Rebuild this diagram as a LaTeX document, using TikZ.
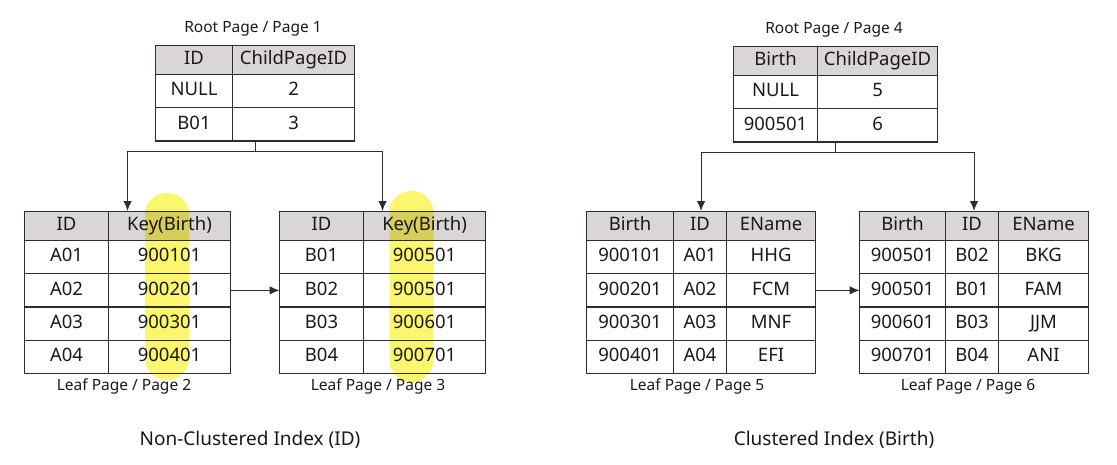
\documentclass[tikz,border=0pt]{standalone}
\usepackage{fontspec}
\setmainfont{Noto Sans}
\usetikzlibrary{matrix,arrows.meta}
\definecolor{hdr}{RGB}{218,214,214}
\definecolor{ln}{RGB}{45,45,45}
\definecolor{tx}{RGB}{25,25,25}
\definecolor{hl}{RGB}{250,246,110}
\begin{document}
\begin{tikzpicture}[x=1pt,y=-1pt,
 tbl/.style={matrix of nodes, inner sep=0pt, outer sep=0pt, column sep=-1.1pt, row sep=-1.1pt, anchor=north west,
   nodes={draw=ln, line width=1.1pt, inner sep=0pt, minimum height=33.2pt, text height=13.5pt, text depth=4pt,
          font=\fontsize{18.5}{20}\selectfont, text=tx, anchor=center},
   row 1/.style={nodes={fill=hdr, minimum height=29pt}}},
 cw1/.style={column 1/.style={nodes={minimum width=#1}}},
 cw2/.style={column 2/.style={nodes={minimum width=#1}}},
 cw3/.style={column 3/.style={nodes={minimum width=#1}}},
 lbl/.style={font=\fontsize{15.5}{17}\selectfont, text=tx, inner sep=0pt},
 captext/.style={font=\fontsize{19}{21}\selectfont, text=tx, inner sep=0pt},
 arr/.style={draw=ln, line width=1.1pt, -{Latex[length=10pt,width=8.5pt]}},
 conn/.style={draw=ln, line width=1.1pt},
 hlbox/.style={fill=hl, blend mode=multiply, rounded corners=21.5pt, draw=none, inner sep=0pt}
]
\useasboundingbox (0,0) rectangle (1117,464);

% ---------- Non-clustered ----------
\matrix (r1) [tbl, cw1=77pt, cw2=122pt] at (155,45) {
 ID & ChildPageID \\
 NULL & 2 \\
 B01 & 3 \\
};
\matrix (l2) [tbl, cw1=84pt, cw2=122pt] at (24,211) {
 ID & Key(Birth) \\
 A01 & 900101 \\
 A02 & 900201 \\
 A03 & 900301 \\
 A04 & 900401 \\
};
\matrix (l3) [tbl, cw1=84pt, cw2=122pt] at (279,211) {
 ID & Key(Birth) \\
 B01 & 900501 \\
 B02 & 900501 \\
 B03 & 900601 \\
 B04 & 900701 \\
};
\node[lbl] (r1lab) at (253,29) {Root Page / Page 1};
\node[lbl] (l2lab) at (124,386) {Leaf Page / Page 2};
\node[lbl] (l3lab) at (378,386) {Leaf Page / Page 3};

\draw[conn] (r1.south) -- ++(0,10) coordinate (j1);
\draw[arr] (j1) -| (l2.north);
\draw[arr] (j1) -| (l3.north);
\draw[arr] (l2-3-2.east) -- (l3-3-1.west);

\node[hlbox, minimum width=44pt, minimum height=187pt] (h1) at (167,286.5) {};
\node[hlbox, minimum width=44pt, minimum height=191pt] (h2) at (411.5,286.5) {};

\node[captext] (c1) at (250,440) {Non-Clustered Index (ID)};

% ---------- Clustered ----------
\matrix (r4) [tbl, cw1=84pt, cw2=120pt] at (733,46) {
 Birth & ChildPageID \\
 NULL & 5 \\
 900501 & 6 \\
};
\matrix (l5) [tbl, cw1=87pt, cw2=53pt, cw3=89pt] at (586,211) {
 Birth & ID & EName \\
 900101 & A01 & HHG \\
 900201 & A02 & FCM \\
 900301 & A03 & MNF \\
 900401 & A04 & EFI \\
};
\matrix (l6) [tbl, cw1=86pt, cw2=53pt, cw3=90pt] at (859,211) {
 Birth & ID & EName \\
 900501 & B02 & BKG \\
 900501 & B01 & FAM \\
 900601 & B03 & JJM \\
 900701 & B04 & ANI \\
};
\node[lbl] (r4lab) at (834,30) {Root Page / Page 4};
\node[lbl] (l5lab) at (697,386) {Leaf Page / Page 5};
\node[lbl] (l6lab) at (968,386) {Leaf Page / Page 6};

\draw[conn] (r4.south) -- ++(0,10) coordinate (j2);
\draw[arr] (j2) -| (l5.north);
\draw[arr] (j2) -| (l6.north);
\draw[arr] (l5-3-3.east) -- (l6-3-1.west);

\node[captext] (c2) at (834,440) {Clustered Index (Birth)};
\end{tikzpicture}
\end{document}
